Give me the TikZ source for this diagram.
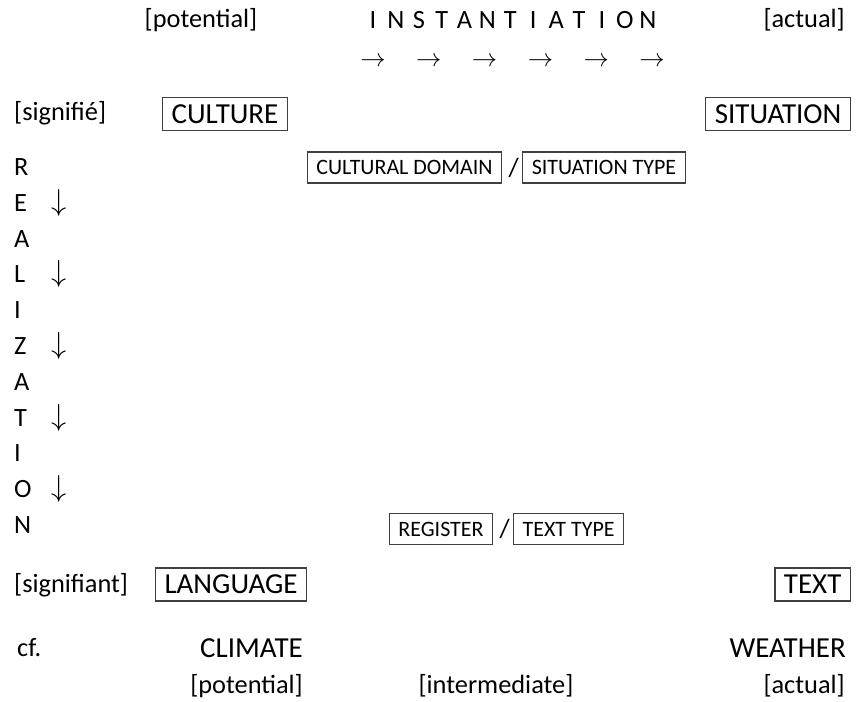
\documentclass[tikz,border=0pt]{standalone}
\usepackage{fontspec}
\setmainfont{Carlito}
\usetikzlibrary{positioning}
\tikzset{
	bigbox/.style={draw=black!75, line width=0.7pt, inner xsep=0.18cm, minimum height=0.66cm, font=\fontsize{16.5}{19}\selectfont},
	smallbox/.style={draw=black!75, line width=0.7pt, inner xsep=0.18cm, minimum height=0.62cm, font=\fontsize{12.5}{14}\selectfont},
	caplbl/.style={font=\fontsize{16.5}{19}\selectfont},
}

\begin{document}
\begin{tikzpicture}[font=\fontsize{15}{18}\selectfont]
	\useasboundingbox (0,0) rectangle (17.3,-14.04);
	\node (pottop) at (4.02,-0.40) {[potential]};
	\node[anchor=east] (acttop) at (17.02,-0.40) {[actual]};
	\foreach \c [count=\i from 0] in {I,N,S,T,A,N,T,I,A,T,I,O,N}
		\node (inst\i) at (7.46+0.458*\i,-0.40) {\c};
	\foreach \i in {0,...,5}
		\node (instarr\i) at (7.46+1.116*\i,-1.24) {$\rightarrow$};
	
	\node[anchor=west] (signifie) at (0.16,-2.26) {[signifié]};
	\node[bigbox] (culture) at (4.5,-2.28) {CULTURE};
	\node[bigbox, anchor=east] (situation) at (17.02,-2.28) {SITUATION};
	
	\node[smallbox] (culdom) at (8.09,-3.35) {CULTURAL DOMAIN};
	\node[inner sep=0pt, right=0.12cm of culdom] (slash1) {/};
	\node[smallbox, right=0.06cm of slash1] (sittype) {SITUATION TYPE};
	
	\foreach \c [count=\i from 0] in {R,E,A,L,I,Z,A,T,I,O,N}
		\node[anchor=west] (real\i) at (0.16,-3.34-0.716*\i) {\c};
	\foreach \i in {1,3,5,7,9}
		\node[font=\fontsize{16}{18}\selectfont] (realarr\i) at (1.18,-3.34-0.716*\i) {$\downarrow$};
	
	\node[smallbox] (register) at (8.82,-10.58) {REGISTER};
	\node[inner sep=0pt, right=0.12cm of register] (slash2) {/};
	\node[smallbox, right=0.06cm of slash2] (texttype) {TEXT TYPE};
	
	\node[anchor=west] (signifiant) at (0.16,-11.70) {[signifiant]};
	\node[bigbox] (language) at (4.62,-11.69) {LANGUAGE};
	\node[bigbox, anchor=east] (text) at (17.02,-11.69) {TEXT};
	
	\node[anchor=west] (cf) at (0.22,-12.96) {cf.};
	\node[caplbl, anchor=east] (climate) at (6.18,-12.96) {CLIMATE};
	\node[caplbl, anchor=east] (weather) at (17.04,-12.96) {WEATHER};
	\node[anchor=east] (potbot) at (6.18,-13.72) {[potential]};
	\node (intermediate) at (9.92,-13.72) {[intermediate]};
	\node[anchor=east] (actbot) at (17.02,-13.72) {[actual]};
\end{tikzpicture}
\end{document}
